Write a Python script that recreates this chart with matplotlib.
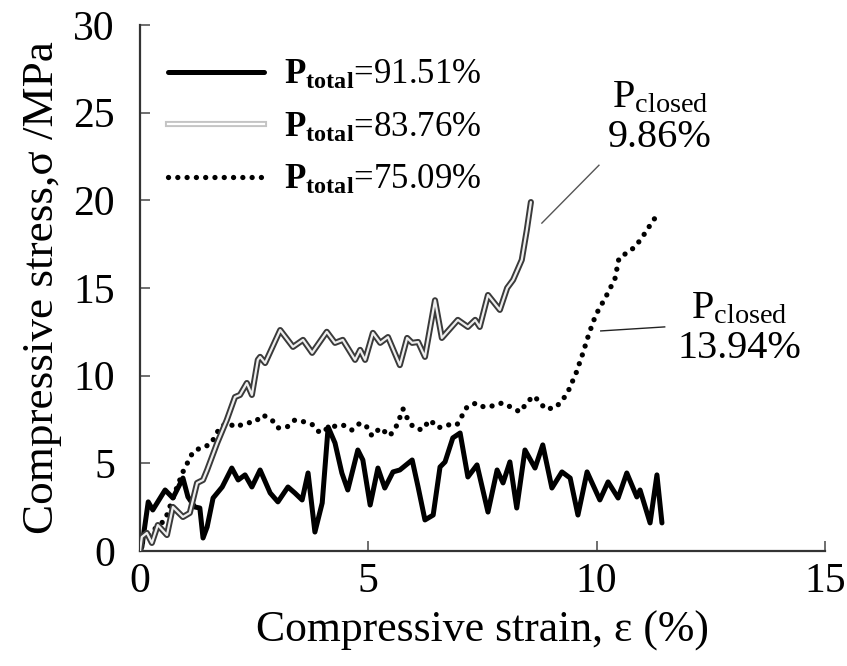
# Compressive stress-strain curves for three total porosities
import matplotlib.pyplot as plt
from matplotlib.lines import Line2D
from matplotlib.legend_handler import HandlerTuple

plt.rcParams['font.family'] = ['Liberation Serif', 'DejaVu Serif']
plt.rcParams['mathtext.fontset'] = 'custom'
plt.rcParams['mathtext.rm'] = 'Liberation Serif'
plt.rcParams['mathtext.bf'] = 'Liberation Serif:bold'
plt.rcParams['mathtext.it'] = 'Liberation Serif:italic'

# P_total = 91.51 %
strain_a = [0, 0.04, 0.18, 0.28, 0.55, 0.72, 0.94, 1.05, 1.20, 1.31, 1.38, 1.47, 1.60, 1.80,
            2.01, 2.15, 2.30, 2.45, 2.63, 2.85, 3.02, 3.24, 3.39, 3.55, 3.68, 3.83, 3.99,
            4.12, 4.27, 4.42, 4.55, 4.77, 4.88, 5.04, 5.21, 5.36, 5.54, 5.69, 5.96, 6.09,
            6.24, 6.42, 6.57, 6.68, 6.85, 7.01, 7.18, 7.38, 7.62, 7.82, 7.95, 8.10, 8.25,
            8.43, 8.65, 8.82, 9.02, 9.24, 9.42, 9.59, 9.79, 10.07, 10.25, 10.47, 10.66,
            10.88, 10.95, 11.17, 11.32, 11.43]
stress_a = [0, 0.23, 2.80, 2.34, 3.48, 3.02, 4.16, 3.08, 2.51, 2.45, 0.74, 1.37, 3.02, 3.65,
            4.73, 4.05, 4.34, 3.65, 4.62, 3.31, 2.80, 3.65, 3.31, 2.91, 4.45, 1.08, 2.74,
            7.07, 6.16, 4.45, 3.48, 5.76, 5.19, 2.62, 4.73, 3.59, 4.51, 4.62, 5.19, 3.65,
            1.77, 2.05, 4.79, 5.08, 6.45, 6.73, 4.22, 4.91, 2.22, 4.62, 3.88, 5.08, 2.45,
            5.76, 4.73, 6.05, 3.59, 4.51, 4.16, 2.05, 4.51, 2.91, 3.94, 3.02, 4.45,
            3.08, 3.48, 1.60, 4.34, 1.60]

# P_total = 83.76 %
strain_b = [0, 0.04, 0.15, 0.26, 0.39, 0.59, 0.72, 0.94, 1.09, 1.25, 1.38, 1.47, 1.69, 1.90,
            2.08, 2.19, 2.34, 2.45, 2.58, 2.63, 2.74, 3.07, 3.35, 3.57, 3.77, 4.09, 4.27,
            4.44, 4.71, 4.82, 4.93, 5.10, 5.26, 5.43, 5.69, 5.85, 5.96, 6.09, 6.24, 6.46,
            6.61, 6.96, 7.18, 7.34, 7.44, 7.62, 7.88, 8.04, 8.17, 8.36, 8.47, 8.56]
stress_b = [0, 0.80, 1.03, 0.46, 1.48, 0.91, 2.51, 1.94, 2.17, 3.88, 4.05, 4.62, 6.16, 7.47,
            8.78, 8.90, 9.58, 8.90, 10.90, 11.07, 10.72, 12.60, 11.64, 12.04, 11.30, 12.50, 11.87,
            12.04, 10.90, 11.47, 10.90, 12.44, 11.87, 12.20, 10.60, 12.15, 11.87, 11.92, 11.07, 14.30,
            12.15, 13.18, 12.78, 13.18, 12.78, 14.60, 13.75, 15.00, 15.46, 16.60, 18.30, 19.90]

# P_total = 75.09 %
strain_c = [0, 0.04, 0.18, 0.37, 0.55, 0.77, 0.94, 1.16, 1.36, 1.53, 1.64, 1.75, 1.93, 2.08,
            2.34, 2.52, 2.69, 2.89, 3.02, 3.22, 3.39, 3.61, 3.79, 3.94, 4.16, 4.44, 4.64,
            4.82, 4.97, 5.08, 5.26, 5.47, 5.63, 5.76, 5.85, 5.98, 6.17, 6.35, 6.53, 6.72,
            6.94, 7.05, 7.16, 7.36, 7.53, 7.71, 7.93, 8.12, 8.32, 8.47, 8.61, 8.74, 8.87,
            9.09, 9.24, 9.37, 9.55, 9.70, 9.83, 9.98, 10.20, 10.40, 10.49, 10.66, 10.84,
            10.99, 11.23, 11.36]
stress_c = [0, 0.46, 0.91, 1.37, 1.77, 3.37, 4.51, 5.65, 5.93, 6.05, 6.50, 7.07, 7.30, 7.07,
            7.30, 7.36, 7.76, 7.47, 7.02, 7.07, 7.47, 7.36, 7.19, 6.73, 7.07, 7.19, 6.90,
            7.30, 7.07, 6.56, 7.02, 6.56, 7.19, 8.10, 7.59, 7.07, 6.90, 7.47, 7.02, 7.19,
            7.19, 7.70, 8.21, 8.44, 8.21, 8.27, 8.44, 8.21, 7.93, 8.44, 8.84, 8.56, 8.10,
            8.16, 8.56, 9.07, 10.15, 11.29, 12.38, 13.46, 14.49, 15.52, 16.71, 17.00, 17.34,
            17.86, 18.82, 19.28]

labels = [r'$\mathbf{P_{total}}$=91.51%', r'$\mathbf{P_{total}}$=83.76%',
          r'$\mathbf{P_{total}}$=75.09%']
closed_labels = [r'$\mathrm{P}_{\mathrm{closed}}$' + '\n9.86%',
                 r'$\mathrm{P}_{\mathrm{closed}}$' + '\n13.94%']

fig = plt.figure(figsize=(8.47, 6.66), dpi=100)
ax = fig.add_axes([0.1653, 0.1727, 0.8087, 0.7898])

la, = ax.plot(strain_a, stress_a, color='black', lw=3.6, solid_joinstyle='round',
              solid_capstyle='round', zorder=3)
# double line: dark outline with a light core
ax.plot(strain_b, stress_b, color='#3a3a3a', lw=4.4, solid_joinstyle='round',
        solid_capstyle='round', zorder=4)
ax.plot(strain_b, stress_b, color='#eeeeee', lw=1.6, solid_joinstyle='round',
        solid_capstyle='round', zorder=5)
lc, = ax.plot(strain_c, stress_c, color='black', lw=3.8, linestyle=(0, (0.01, 1.75)),
              dash_capstyle='round', zorder=2)

# lighter double line for the legend key
key_outer = Line2D([], [], color='#c4c4c4', lw=4.4)
key_inner = Line2D([], [], color='white', lw=1.6)

# annotation leaders
ax.plot([8.80, 10.05], [18.7, 22.0], color='#555555', lw=1.0)
ax.plot([10.09, 11.49], [12.55, 12.78], color='#222222', lw=1.0)
ax.text(11.39, 24.7, closed_labels[0], fontsize=29, ha='center', va='center',
        linespacing=1.1)
ax.text(13.12, 12.7, closed_labels[1], fontsize=29, ha='center', va='center',
        linespacing=1.1)

ax.legend([la, (key_outer, key_inner), lc], labels, handler_map={tuple: HandlerTuple()},
          loc='upper left', bbox_to_anchor=(0.041, 0.935), frameon=False, fontsize=25,
          handlelength=2.75, handletextpad=0.6, labelspacing=0.55, borderpad=0,
          borderaxespad=0)

ax.set_xlim(0, 15)
ax.set_ylim(0, 30)
ax.set_xticks([0, 5, 10, 15])
ax.set_yticks([0, 5, 10, 15, 20, 25, 30])
ax.spines['top'].set_visible(False)
ax.spines['right'].set_visible(False)
for s in ['left', 'bottom']:
    ax.spines[s].set_linewidth(1.6)
    ax.spines[s].set_color('#333333')
ax.tick_params(axis='both', direction='in', length=7, width=1.2, color='#555555',
               labelsize=30)
ax.tick_params(axis='y', pad=18)
ax.tick_params(axis='x', pad=8)
ax.set_xlabel('Compressive strain, ε (%)', fontsize=31.5, labelpad=7)
ax.set_ylabel('Compressive stress,σ /MPa', fontsize=32.5, labelpad=8)

fig.savefig('out.png', dpi=100)
